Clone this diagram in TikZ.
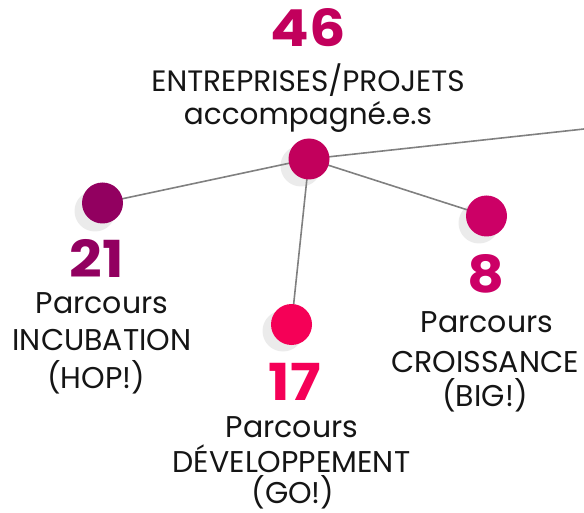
\documentclass[tikz,border=0pt]{standalone}
\usepackage{fontspec}
\setmainfont{Poppins}
\newfontfamily\numfont{Poppins}[FakeStretch=1.12]
\definecolor{cmain}{HTML}{C2005C}
\definecolor{cleft}{HTML}{920060}
\definecolor{cright}{HTML}{CC0066}
\definecolor{cbottom}{HTML}{F50057}
\definecolor{cshadow}{HTML}{EBEBEB}
\definecolor{cline}{HTML}{808080}
\definecolor{ctext}{HTML}{151515}
\tikzset{
  dot/.style={circle, minimum size=41pt, inner sep=0pt, fill=#1},
  shadowdot/.style={circle, minimum size=41pt, inner sep=0pt, fill=cshadow},
  link/.style={draw=cline, line width=1.6pt},
  bignum/.style={anchor=base, text=#1, font=\numfont\fontsize{51}{51}\selectfont\bfseries},
  label/.style={anchor=base, text=ctext, font=\fontsize{30}{30}\selectfont},
  title/.style={anchor=base, text=ctext, font=\fontsize{29.5}{29.5}\selectfont}
}
\begin{document}
\begin{tikzpicture}[x=1pt,y=-1pt]
\useasboundingbox (0,0) rectangle (584,513);
% shadows
\node[shadowdot] (smain) at (301,166) {};
\node[shadowdot] (sleft) at (95,211) {};
\node[shadowdot] (sright) at (479,223) {};
\node[shadowdot] (sbottom) at (283,331) {};
% coordinates for centres
\coordinate (pmain) at (309,159);
\coordinate (pleft) at (102.5,203);
\coordinate (pright) at (486.5,216);
\coordinate (pbottom) at (291.5,324.5);
\coordinate (pout) at (584,129);
% links
\draw[link] (pmain) -- (pleft);
\draw[link] (pmain) -- (pright);
\draw[link] (pmain) -- (pbottom);
\draw[link] (pmain) -- (pout);
% dots
\node[dot=cmain] (main) at (pmain) {};
\node[dot=cleft] (left) at (pleft) {};
\node[dot=cright] (right) at (pright) {};
\node[dot=cbottom] (bottom) at (pbottom) {};
% texts
\node[bignum=cmain] (n46) at (308,47) {46};
\node[title] (t1) at (308,92) {ENTREPRISES/PROJETS};
\node[title] (t2) at (308,125) {accompagné.e.s};
\node[bignum=cleft] (n21) at (97,277) {21};
\node[label] (l1) at (102,313) {Parcours};
\node[label] (l2) at (102,350) {INCUBATION};
\node[label] (l3) at (96,388) {(HOP!)};
\node[bignum=cright] (n8) at (486,293) {8};
\node[label] (r1) at (487,332) {Parcours};
\node[label] (r2) at (485,372) {CROISSANCE};
\node[label] (r3) at (485,406) {(BIG!)};
\node[bignum=cbottom] (n17) at (295,400) {17};
\node[label] (b1) at (292,437) {Parcours};
\node[label] (b2) at (291.5,472) {DÉVELOPPEMENT};
\node[label] (b3) at (293,503) {(GO!)};
\end{tikzpicture}
\end{document}
